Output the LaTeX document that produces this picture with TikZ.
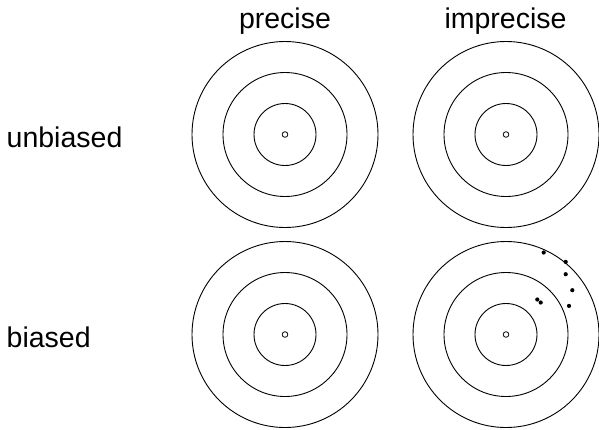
\documentclass[tikz,border=0pt]{standalone}
\usepackage{fontspec}
\setmainfont{Liberation Sans}
\begin{document}
\begin{tikzpicture}[x=1pt,y=-1pt,
  ring/.style={draw=black,line width=0.9pt},
  bull/.style={draw=black,line width=0.8pt,fill=white},
  shot/.style={fill=black},
  lbl/.style={inner sep=0pt,font=\fontsize{28.5}{34}\selectfont}]
\useasboundingbox (0,0) rectangle (599,429);

% target centres
\coordinate (pu) at (285,134.5);
\coordinate (iu) at (506,134.5);
\coordinate (pb) at (285,334.5);
\coordinate (ib) at (506,334.5);

% three rings and a small bull's-eye per target
\foreach \c in {pu,iu,pb,ib}{
  \draw[ring] (\c) circle[radius=31];
  \draw[ring] (\c) circle[radius=62];
  \draw[ring] (\c) circle[radius=93];
  \draw[bull] (\c) circle[radius=2.8];
}

% scattered shots on the biased, imprecise target
\foreach \dx/\dy in {37.7/-82, 59.7/-72.6, 59.7/-60.3, 66.3/-44.3,
                     31.3/-35, 34.7/-32, 63/-28.6}
  \fill[shot] ([shift={(\dx,\dy)}]ib) circle[radius=2.1];

% column and row labels
\node[lbl,anchor=base] (colp) at (285,28) {precise};
\node[lbl,anchor=base] (coli) at (505.5,28) {imprecise};
\node[lbl,anchor=base west] (rowu) at (6.5,147.3) {unbiased};
\node[lbl,anchor=base west] (rowb) at (6.5,347.3) {biased};
\end{tikzpicture}
\end{document}
